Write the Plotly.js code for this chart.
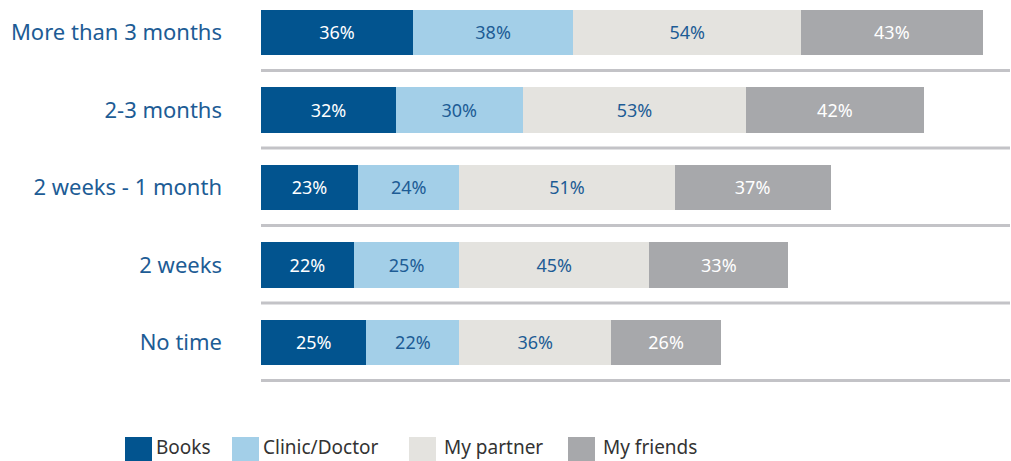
<!DOCTYPE html>
<html>
<head>
<meta charset="utf-8">
<script src="https://cdn.plot.ly/plotly-3.0.1.min.js"></script>
<style>
  html, body { margin: 0; padding: 0; background: #fff; }
  #chart { width: 1011px; height: 461px; }
</style>
</head>
<body>
<div id="chart"></div>
<script>
const categories = ["More than 3 months", "2-3 months", "2 weeks - 1 month", "2 weeks", "No time"];
const seriesNames = ["Books", "Clinic/Doctor", "My partner", "My friends"];
const books = [36, 32, 23, 22, 25];
const clinic = [38, 30, 24, 25, 22];
const partner = [54, 53, 51, 45, 36];
const friends = [43, 42, 37, 33, 26];

const fills = ["#02548f", "#a3cfe8", "#e4e3df", "#a7a8ab"];
const inks = ["#ffffff", "#1d5c95", "#1d5c95", "#ffffff"];
const fontFamily = "'Noto Sans', 'Open Sans', sans-serif";

const W = 1011, H = 461;
const margin = { l: 261, r: 1, t: 0, b: 72 };
const plotW = W - margin.l - margin.r;
const plotH = H - margin.t - margin.b;
const px = (x) => (x - margin.l) / plotW;
const py = (y) => (plotH + margin.t - y) / plotH;

const rows = categories.map((_, i) => i);
const values = [books, clinic, partner, friends];

const traces = values.map((vals, k) => ({
  type: "bar",
  orientation: "h",
  name: seriesNames[k],
  y: rows,
  x: vals,
  width: 0.59,
  text: vals.map((v) => v + "%"),
  textposition: "inside",
  insidetextanchor: "middle",
  textfont: { color: inks[k], size: 18, family: fontFamily },
  marker: { color: fills[k] },
  hoverinfo: "skip",
  showlegend: false
}));

// separator lines below each row
const shapes = rows.map((i) => ({
  type: "line",
  xref: "paper", x0: 0, x1: 1,
  yref: "y", y0: i + 0.49, y1: i + 0.49,
  line: { color: "#c3c3c7", width: 3 }
}));

// custom legend with larger swatches
const swatchX = [125, 232, 409, 568];
const labelX = [157, 264, 445, 604];
const annotations = [];
seriesNames.forEach((name, k) => {
  shapes.push({
    type: "rect",
    xref: "paper", yref: "paper",
    x0: px(swatchX[k]), x1: px(swatchX[k] + 27),
    y0: py(461), y1: py(437),
    fillcolor: fills[k],
    line: { width: 0 }
  });
  annotations.push({
    xref: "paper", yref: "paper",
    x: px(labelX[k] - 2), y: py(447),
    xanchor: "left", yanchor: "middle",
    text: name,
    showarrow: false,
    borderpad: 0,
    font: { size: 19, color: "#333333", family: fontFamily }
  });
});

const layout = {
  width: W,
  height: H,
  margin: margin,
  paper_bgcolor: "#ffffff",
  plot_bgcolor: "#ffffff",
  barmode: "stack",
  showlegend: false,
  font: { family: fontFamily },
  xaxis: {
    range: [0, 177.5],
    visible: false,
    fixedrange: true
  },
  yaxis: {
    range: [4.6, -0.419],
    tickmode: "array",
    tickvals: rows,
    ticktext: categories,
    showgrid: false,
    zeroline: false,
    showline: false,
    ticks: "",
    ticklabelstandoff: 38,
    tickfont: { size: 22, color: "#1d5c95", family: fontFamily },
    fixedrange: true
  },
  shapes: shapes,
  annotations: annotations
};

Plotly.newPlot("chart", traces, layout, { displayModeBar: false, responsive: false });
</script>
</body>
</html>
